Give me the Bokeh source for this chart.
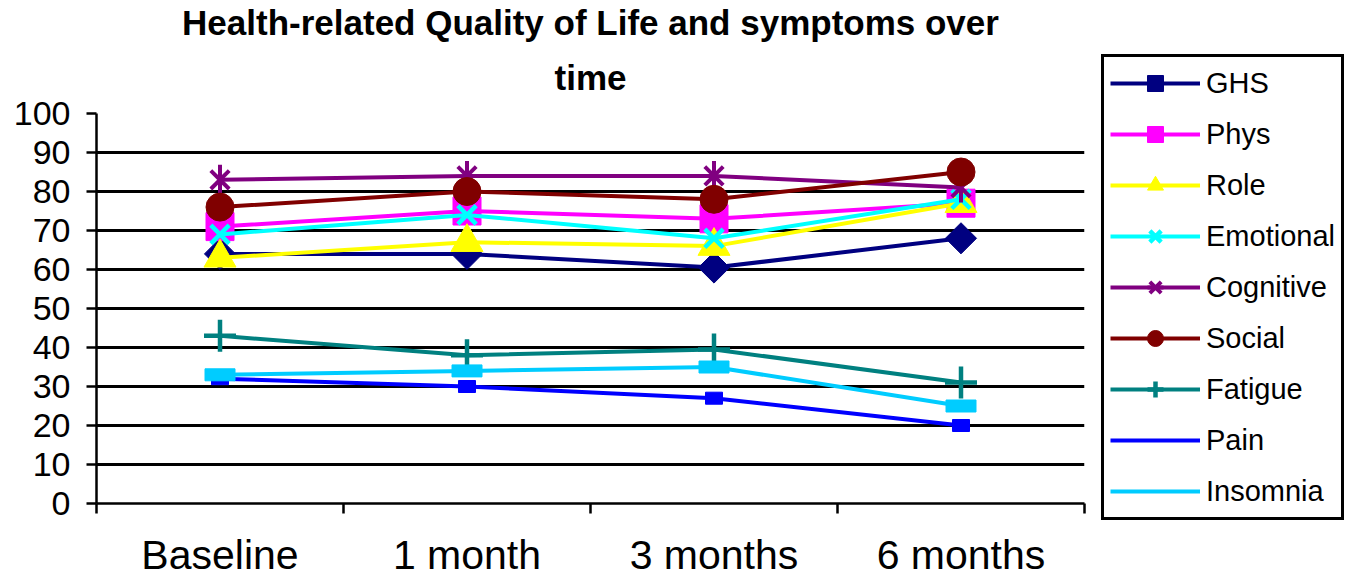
import numpy as np
from bokeh.plotting import figure
from bokeh.models import Range1d, FixedTicker, Legend, LegendItem, Title
from bokeh.embed import file_html
from bokeh.resources import INLINE

categories = ["Baseline", "1 month", "3 months", "6 months"]
ghs = [64, 64, 60.5, 68]
phys = [71, 75, 73, 77]
role = [63, 67, 66, 77]
emotional = [69, 74, 68, 78]
cognitive = [83, 84, 84, 81]
social = [76, 80, 78, 85]
fatigue = [43, 38, 39.5, 31]
pain = [32, 30, 27, 20]
insomnia = [33, 34, 35, 25]
y_ticks = list(range(0, 101, 10))
title_lines = ["Health-related Quality of Life and symptoms over", "time"]

FONT = "Liberation Sans"
xs = [i + 0.5 for i in range(len(categories))]
bounds = list(range(len(categories) + 1))

p = figure(frame_width=988, frame_height=390,
           x_range=Range1d(0, len(categories)), y_range=Range1d(0, 100),
           output_backend="svg", toolbar_location=None, title=None,
           min_border_left=96, min_border_right=279, min_border_top=113,
           min_border_bottom=73, outline_line_color=None,
           background_fill_color="white", border_fill_color="white")

# titles (first added is nearest the frame)
p.add_layout(Title(text=title_lines[1], align="center", text_font=FONT,
                   text_font_size="35px", text_font_style="bold",
                   text_color="black", standoff=34), "above")
p.add_layout(Title(text=title_lines[0], align="center", text_font=FONT,
                   text_font_size="35px", text_font_style="bold",
                   text_color="black", standoff=-6), "above")

# x axis
xa = p.xaxis[0]
xa.ticker = FixedTicker(ticks=xs, minor_ticks=bounds)
xa.major_label_overrides = {x: c for x, c in zip(xs, categories)}
xa.major_tick_line_color = None
xa.major_tick_out = 0
xa.major_tick_in = 0
xa.minor_tick_out = 10
xa.minor_tick_in = 0
xa.minor_tick_line_color = "black"
xa.minor_tick_line_width = 2.5
xa.axis_line_color = "black"
xa.axis_line_width = 2.5
xa.major_label_text_font = FONT
xa.major_label_text_font_size = "41px"
xa.major_label_text_color = "black"
xa.major_label_standoff = 18

# y axis
ya = p.yaxis[0]
ya.ticker = FixedTicker(ticks=y_ticks)
ya.major_tick_out = 10
ya.major_tick_in = 0
ya.major_tick_line_width = 2.5
ya.major_tick_line_color = "black"
ya.minor_tick_line_color = None
ya.axis_line_color = "black"
ya.axis_line_width = 2.5
ya.major_label_text_font = FONT
ya.major_label_text_font_size = "34px"
ya.major_label_text_color = "black"
ya.major_label_standoff = 16

p.xgrid.visible = False
p.ygrid.ticker = FixedTicker(ticks=y_ticks)
p.ygrid.grid_line_color = "black"
p.ygrid.grid_line_width = 3

items = []
LW = 4

def add_line(vals, color):
    return p.line(xs, vals, line_color=color, line_width=LW)

# GHS
c = "#000080"
r1 = add_line(ghs, c)
r2 = p.scatter(xs, ghs, marker="square", angle=np.pi / 4, size=22,
               fill_color=c, line_color=c)
items.append(LegendItem(label="GHS", renderers=[r1, r2]))

# Phys
c = "#FF00FF"
r1 = add_line(phys, c)
r2 = p.scatter(xs, phys, marker="square", size=28, fill_color=c, line_color=c)
items.append(LegendItem(label="Phys", renderers=[r1, r2]))

# Role
c = "#FFFF00"
r1 = add_line(role, c)
r2 = p.scatter(xs, role, marker="triangle", size=32, fill_color=c, line_color=c)
items.append(LegendItem(label="Role", renderers=[r1, r2]))

# Emotional
c = "#00FFFF"
r1 = add_line(emotional, c)
r2 = p.scatter(xs, emotional, marker="x", size=26, line_color=c, line_width=4.5)
items.append(LegendItem(label="Emotional", renderers=[r1, r2]))

# Cognitive
c = "#800080"
r1 = add_line(cognitive, c)
r2 = p.scatter(xs, cognitive, marker="x", size=26, line_color=c, line_width=4)
r3 = p.scatter(xs, cognitive, marker="dash", angle=np.pi / 2, size=30,
               line_color=c, line_width=4)
items.append(LegendItem(label="Cognitive", renderers=[r1, r2, r3]))

# Social
c = "#800000"
r1 = add_line(social, c)
r2 = p.scatter(xs, social, marker="circle", size=28, fill_color=c, line_color=c)
items.append(LegendItem(label="Social", renderers=[r1, r2]))

# Fatigue
c = "#008080"
r1 = add_line(fatigue, c)
r2 = p.scatter(xs, fatigue, marker="cross", size=32, line_color=c, line_width=4.5)
items.append(LegendItem(label="Fatigue", renderers=[r1, r2]))

# Pain
c = "#0000FF"
r1 = add_line(pain, c)
p.rect(xs, pain, width=17, height=12, width_units="screen",
       height_units="screen", fill_color=c, line_color=c)
items.append(LegendItem(label="Pain", renderers=[r1]))

# Insomnia
c = "#00CCFF"
r1 = add_line(insomnia, c)
p.rect(xs, insomnia, width=30, height=12, width_units="screen",
       height_units="screen", fill_color=c, line_color=c)
items.append(LegendItem(label="Insomnia", renderers=[r1]))

legend = Legend(items=items, location=(17, -17),
                glyph_width=90, glyph_height=40, label_height=40,
                spacing=11, padding=6, margin=0, label_standoff=6,
                label_text_font=FONT, label_text_font_size="29px",
                label_text_color="black",
                border_line_color="black", border_line_width=3,
                border_line_alpha=1,
                background_fill_color="white", background_fill_alpha=1)
p.add_layout(legend, "right")

open("out.html", "w").write(file_html(p, INLINE))
